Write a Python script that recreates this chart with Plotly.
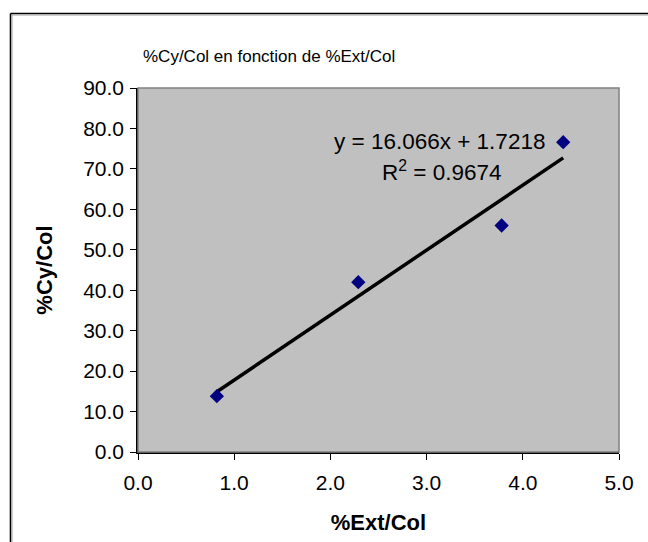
import plotly.graph_objects as go

# Data
ext_col = [0.82, 2.29, 3.78, 4.42]
cy_col = [13.8, 42.0, 56.0, 76.6]
slope = 16.066
intercept = 1.7218
r2 = 0.9674
x_ticks = [0.0, 1.0, 2.0, 3.0, 4.0, 5.0]
y_ticks = [0, 10, 20, 30, 40, 50, 60, 70, 80, 90]

W, H = 648, 542
L, R, T, B = 138, 29, 88, 90
pw, ph = W - L - R, H - T - B

FONT = "Liberation Sans, Arial, sans-serif"

x_line = [min(ext_col), max(ext_col)]
y_line = [slope * v + intercept for v in x_line]

fig = go.Figure()
fig.add_trace(go.Scatter(x=x_line, y=y_line, mode="lines",
                         line=dict(color="black", width=3.5), hoverinfo="skip"))
fig.add_trace(go.Scatter(x=ext_col, y=cy_col, mode="markers",
                         marker=dict(symbol="diamond", size=11, color="#000080")))

def px_x(p):
    return (p - L) / pw

def px_y(p):
    return (H - B - p) / ph

shapes = [
    # plot area border (grey)
    dict(type="rect", xref="paper", yref="paper", x0=0, x1=1, y0=0, y1=1,
         line=dict(color="#808080", width=1.5), layer="above"),
    # outer chart border: left and top lines (cut at right and bottom)
    dict(type="line", xref="paper", yref="paper",
         x0=px_x(10.5), x1=px_x(10.5), y0=px_y(H + 5), y1=px_y(13.5),
         line=dict(color="black", width=1.6), layer="below"),
    dict(type="line", xref="paper", yref="paper",
         x0=px_x(10.5), x1=px_x(W + 5), y0=px_y(13.5), y1=px_y(13.5),
         line=dict(color="black", width=1.6), layer="below"),
    dict(type="line", xref="paper", yref="paper",
         x0=px_x(12), x1=px_x(12), y0=px_y(H + 5), y1=px_y(15),
         line=dict(color="#A0A0A0", width=1), layer="below"),
    dict(type="line", xref="paper", yref="paper",
         x0=px_x(12), x1=px_x(W + 5), y0=px_y(15), y1=px_y(15),
         line=dict(color="#A0A0A0", width=1), layer="below"),
]

annotations = [
    dict(text=f"y = {slope}x + {intercept}", x=4.25, y=76.8, xref="x", yref="y",
         showarrow=False, xanchor="right", yanchor="middle",
         font=dict(family=FONT, size=22.5, color="black")),
    dict(text=f"R<sup>2</sup> = {r2}", x=3.15, y=69.4, xref="x", yref="y",
         showarrow=False, xanchor="center", yanchor="middle",
         font=dict(family=FONT, size=22.5, color="black")),
    dict(text="%Cy/Col en fonction de %Ext/Col", x=px_x(269), y=px_y(56),
         xref="paper", yref="paper", showarrow=False, xanchor="center", yanchor="middle",
         font=dict(family=FONT, size=17, color="black")),
]

fig.update_layout(
    width=W, height=H,
    margin=dict(l=L, r=R, t=T, b=B),
    paper_bgcolor="white",
    plot_bgcolor="#C0C0C0",
    showlegend=False,
    shapes=shapes,
    annotations=annotations,
    font=dict(family=FONT, size=21, color="black"),
)
fig.update_xaxes(range=[0, 5], tickvals=x_ticks, ticktext=[f"{v:.1f}" for v in x_ticks],
                 showgrid=False, zeroline=False, showline=True, linecolor="black", linewidth=1.5,
                 ticks="outside", ticklen=6, tickcolor="black", tickwidth=1,
                 ticklabelstandoff=5,
                 title=dict(text="<b>%Ext/Col</b>", font=dict(family=FONT, size=22), standoff=22))
fig.update_yaxes(range=[0, 90], tickvals=y_ticks, ticktext=[f"{v:.1f}" for v in y_ticks],
                 showgrid=False, zeroline=False, showline=True, linecolor="black", linewidth=1.5,
                 ticks="outside", ticklen=6, tickcolor="black", tickwidth=1,
                 ticklabelstandoff=2,
                 title=dict(text="<b>%Cy/Col</b>", font=dict(family=FONT, size=22), standoff=24))

fig.write_html(
    "out.html",
    config={"displayModeBar": False},
    post_script="document.body.style.margin='0';document.body.style.overflow='hidden';",
)
